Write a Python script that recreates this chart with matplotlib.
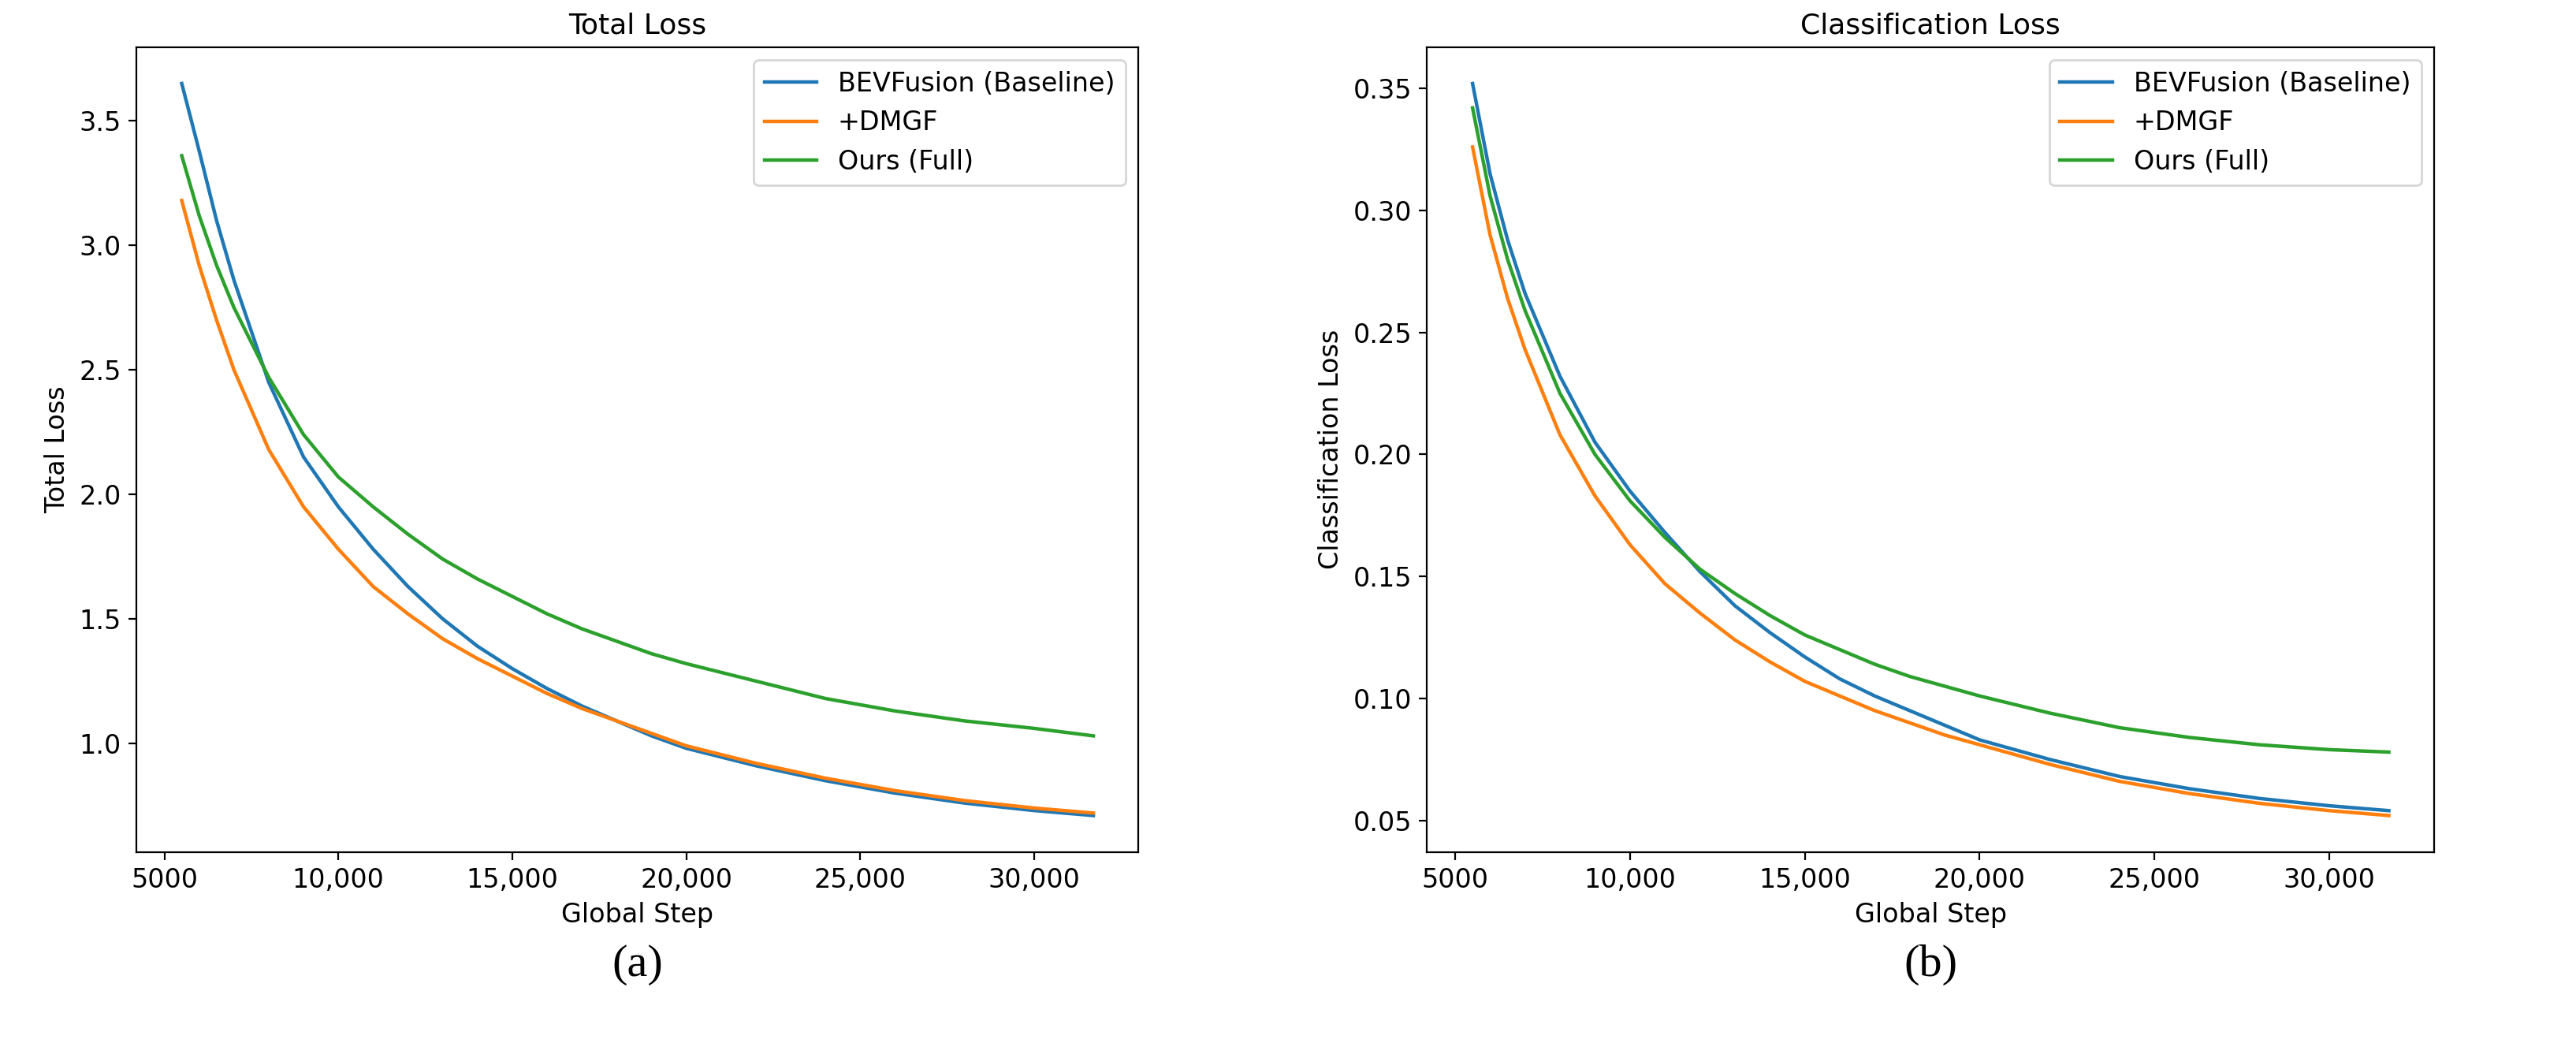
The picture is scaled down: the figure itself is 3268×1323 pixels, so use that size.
import numpy as np
import matplotlib.pyplot as plt
from matplotlib.ticker import FuncFormatter

plt.rcParams['font.size'] = 12

steps = [5500, 6000, 6500, 7000, 8000, 9000, 10000, 11000, 12000, 13000, 14000, 15000,
         16000, 17000, 18000, 19000, 20000, 22000, 24000, 26000, 28000, 30000, 31700]

# Total loss
total_base = [3.65, 3.38, 3.10, 2.86, 2.45, 2.15, 1.95, 1.78, 1.63, 1.50, 1.39, 1.30,
              1.22, 1.15, 1.09, 1.03, 0.98, 0.91, 0.85, 0.80, 0.76, 0.73, 0.71]
total_dmgf = [3.18, 2.92, 2.70, 2.50, 2.18, 1.95, 1.78, 1.63, 1.52, 1.42, 1.34, 1.27,
              1.20, 1.14, 1.09, 1.04, 0.99, 0.92, 0.86, 0.81, 0.77, 0.74, 0.72]
total_ours = [3.36, 3.12, 2.92, 2.75, 2.47, 2.24, 2.07, 1.95, 1.84, 1.74, 1.66, 1.59,
              1.52, 1.46, 1.41, 1.36, 1.32, 1.25, 1.18, 1.13, 1.09, 1.06, 1.03]

# Classification loss
cls_base = [0.352, 0.315, 0.288, 0.266, 0.232, 0.205, 0.185, 0.168, 0.152, 0.138, 0.127, 0.117,
            0.108, 0.101, 0.095, 0.089, 0.083, 0.075, 0.068, 0.063, 0.059, 0.056, 0.054]
cls_dmgf = [0.326, 0.290, 0.264, 0.243, 0.208, 0.183, 0.163, 0.147, 0.135, 0.124, 0.115, 0.107,
            0.101, 0.095, 0.090, 0.085, 0.081, 0.073, 0.066, 0.061, 0.057, 0.054, 0.052]
cls_ours = [0.342, 0.306, 0.280, 0.259, 0.225, 0.200, 0.181, 0.166, 0.153, 0.143, 0.134, 0.126,
            0.120, 0.114, 0.109, 0.105, 0.101, 0.094, 0.088, 0.084, 0.081, 0.079, 0.078]

labels = ['BEVFusion (Baseline)', '+DMGF', 'Ours (Full)']


def step_fmt(x, pos):
    if x >= 10000:
        return f'{x:,.0f}'
    return f'{x:.0f}'


def draw_panel(rect, series, title, ylabel, caption):
    ax = plt.axes(rect)
    for s, lab in zip(series, labels):
        plt.plot(steps, s, label=lab, linewidth=1.6)
    plt.title(title, fontsize=13)
    plt.xlabel('Global Step')
    plt.ylabel(ylabel)
    plt.xlim(4200, 33000)
    plt.xticks([5000, 10000, 15000, 20000, 25000, 30000])
    ax.xaxis.set_major_formatter(FuncFormatter(step_fmt))
    plt.legend(loc='upper right')
    x_mid = rect[0] + rect[2] / 2
    plt.gcf().text(x_mid, 0.075, caption, ha='center', va='center',
                   family='Liberation Serif', fontsize=21)
    return ax


plt.figure(figsize=(16.34, 6.615), dpi=200)

draw_panel([0.053, 0.183, 0.389, 0.772], [total_base, total_dmgf, total_ours],
           'Total Loss', 'Total Loss', '(a)')
plt.yticks([1.0, 1.5, 2.0, 2.5, 3.0, 3.5])

draw_panel([0.554, 0.183, 0.391, 0.772], [cls_base, cls_dmgf, cls_ours],
           'Classification Loss', 'Classification Loss', '(b)')
plt.yticks([0.05, 0.10, 0.15, 0.20, 0.25, 0.30, 0.35])

plt.savefig('out.png', dpi=200)
